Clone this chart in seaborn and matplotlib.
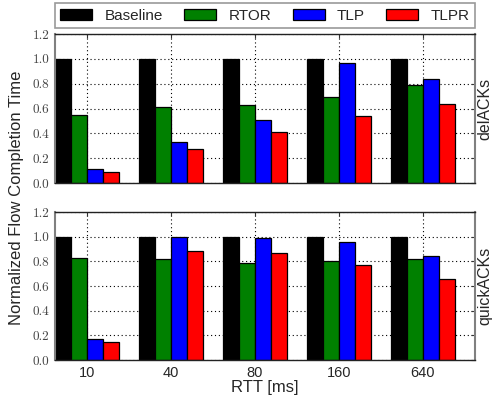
import numpy as np
import pandas as pd
import matplotlib
matplotlib.use("Agg")
import matplotlib.pyplot as plt
import seaborn as sns

rtt = ["10", "40", "80", "160", "640"]
schemes = ["Baseline", "RTOR", "TLP", "TLPR"]
colors = ["#000000", "#008000", "#0000ff", "#ff0000"]

del_baseline = [1.0, 1.0, 1.0, 1.0, 1.0]
del_rtor = [0.55, 0.61, 0.63, 0.69, 0.79]
del_tlp = [0.11, 0.33, 0.51, 0.97, 0.84]
del_tlpr = [0.09, 0.27, 0.41, 0.54, 0.64]

quick_baseline = [1.0, 1.0, 1.0, 1.0, 1.0]
quick_rtor = [0.83, 0.82, 0.79, 0.80, 0.82]
quick_tlp = [0.17, 1.0, 0.99, 0.96, 0.84]
quick_tlpr = [0.15, 0.88, 0.87, 0.77, 0.66]

panel_labels = ["delACKs", "quickACKs"]
yticks = [0.0, 0.2, 0.4, 0.6, 0.8, 1.0, 1.2]


def make_df(series):
    rows = []
    for name, vals in zip(schemes, series):
        for r, v in zip(rtt, vals):
            rows.append({"RTT": r, "scheme": name, "value": v})
    return pd.DataFrame(rows)


dfs = [make_df([del_baseline, del_rtor, del_tlp, del_tlpr]),
       make_df([quick_baseline, quick_rtor, quick_tlp, quick_tlpr])]

sns.set_style("white")
plt.rcParams["font.family"] = ["Liberation Sans", "DejaVu Sans"]

fig = plt.figure(figsize=(4.93, 3.96), dpi=100)
ax_top = fig.add_axes([0.1116, 0.5379, 0.8519, 0.3762])
ax_bot = fig.add_axes([0.1116, 0.0909, 0.8519, 0.3737])

for ax, df, lab in zip([ax_top, ax_bot], dfs, panel_labels):
    sns.barplot(data=df, x="RTT", y="value", hue="scheme", order=rtt,
                hue_order=schemes, palette=colors, width=0.76,
                edgecolor="black", linewidth=0.9, saturation=1,
                errorbar=None, ax=ax, legend=False)
    ax.set_xlim(-0.38, 4.62)
    ax.set_ylim(0, 1.2)
    ax.set_yticks(yticks)
    ax.set_yticklabels([f"{t:.1f}" for t in yticks], fontfamily="cmr10",
                       fontsize=9.5, color="#444444")
    ax.set_axisbelow(True)
    ax.grid(True, linestyle=(0, (1, 2.5)), color="black", linewidth=0.8)
    ax.tick_params(axis="both", direction="in", length=3, left=True,
                   right=True, top=True, bottom=True, pad=4,
                   color="#333333")
    ax.set_xlabel("")
    ax.set_ylabel("")
    for s in ["left", "right"]:
        ax.spines[s].set_color("#808080")
        ax.spines[s].set_linewidth(1.5)
    for s in ["top", "bottom"]:
        ax.spines[s].set_color("#222222")
        ax.spines[s].set_linewidth(1.0)
    ax.text(1.006, 0.5, lab, transform=ax.transAxes, rotation=90,
            ha="left", va="center", fontsize=11.5)

ax_top.set_xticklabels([])
ax_bot.set_xticklabels(rtt, fontsize=10.5)
ax_bot.set_xlabel("RTT [ms]", fontsize=12, labelpad=0)

fig.text(0.018, 0.5, "Normalized Flow Completion Time", rotation=90,
         ha="left", va="center", fontsize=12)

handles = [plt.Rectangle((0, 0), 1, 1, facecolor=c, edgecolor="black",
                         linewidth=0.9) for c in colors]
leg = fig.legend(handles, schemes, loc="lower left",
                 bbox_to_anchor=(0.1116, 0.9293, 0.8519, 0.058),
                 mode="expand", ncol=4, borderaxespad=0, fontsize=11,
                 fancybox=False, frameon=True, handlelength=2.1,
                 handleheight=0.75, borderpad=0.35)
leg.get_frame().set_edgecolor("#808080")
leg.get_frame().set_linewidth(1.2)

fig.savefig("out.png", dpi=100)
